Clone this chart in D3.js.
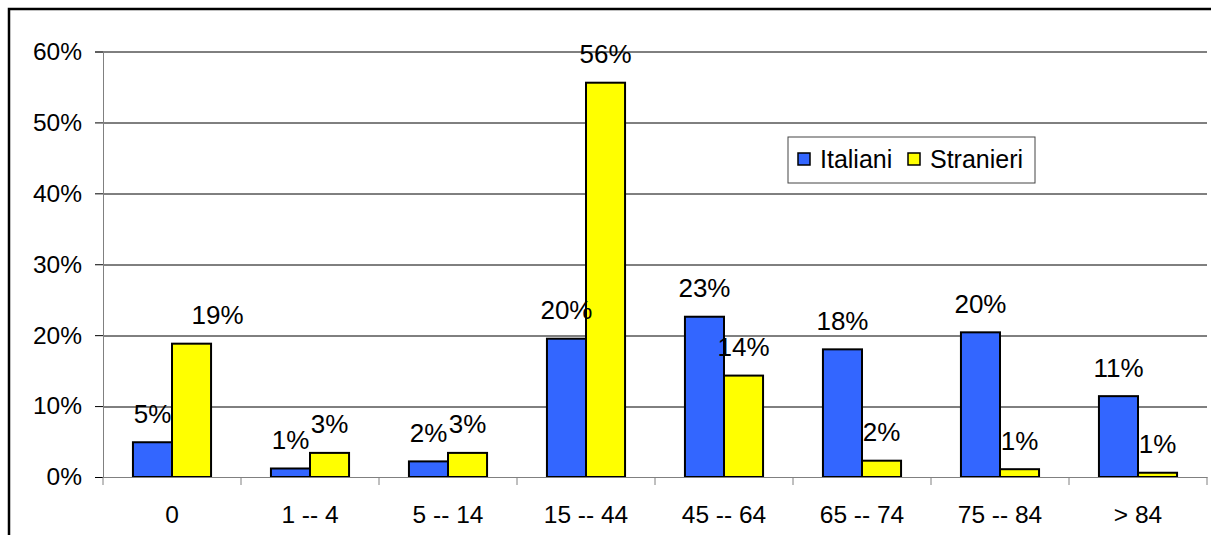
<!DOCTYPE html>
<html>
<head>
<meta charset="utf-8">
<script src="https://cdn.jsdelivr.net/npm/d3@7"></script>
<style>
  body { margin: 0; background: #fff; }
  svg { display: block; font-family: "Liberation Sans", Arial, sans-serif; }
</style>
</head>
<body>
<div id="chart"></div>
<script>
var categories = ['0', '1 -- 4', '5 -- 14', '15 -- 44', '45 -- 64', '65 -- 74', '75 -- 84', '> 84'];
var italiani = [4.9, 1.2, 2.2, 19.5, 22.6, 18.0, 20.4, 11.4];
var stranieri = [18.8, 3.4, 3.4, 55.6, 14.3, 2.3, 1.1, 0.6];
var seriesNames = ['Italiani', 'Stranieri'];
var seriesColors = ['#3366ff', '#ffff00'];
var yTicks = [0, 10, 20, 30, 40, 50, 60];

var width = 1211, height = 535;
var margin = { top: 51.5, right: 4, bottom: 58, left: 103 };
var w = width - margin.left - margin.right,
  h = height - margin.top - margin.bottom;

var svg = d3.select('#chart')
  .append('svg')
  .attr('width', width)
  .attr('height', height);

// outer frame (runs off the right and bottom edges)
svg.append('rect')
  .attr('x', 9)
  .attr('y', 9)
  .attr('width', 1300)
  .attr('height', 600)
  .attr('fill', 'none')
  .attr('stroke', '#000')
  .attr('stroke-width', 2.5);

var g = svg.append('g')
  .attr('transform', 'translate(' + margin.left + ',' + margin.top + ')');

var x = d3.scaleBand()
  .domain(categories)
  .range([0, w]);
var y = d3.scaleLinear()
  .domain([0, 60])
  .range([h, 0]);

var pad = x.bandwidth() * 0.217;
var x1 = d3.scaleBand()
  .domain(seriesNames)
  .range([pad, x.bandwidth() - pad]);

// gridlines
g.selectAll('.grid')
  .data(yTicks.filter(d => d > 0))
  .enter()
  .append('line')
  .attr('x1', 0)
  .attr('x2', w)
  .attr('y1', d => Math.round(y(d)) + 0.5)
  .attr('y2', d => Math.round(y(d)) + 0.5)
  .attr('stroke', '#000')
  .attr('stroke-width', 1);

// y axis
var yAxis = g.append('g')
  .call(d3.axisLeft(y)
    .tickValues(yTicks)
    .tickSize(8)
    .tickPadding(13)
    .tickFormat(d => d + '%'));
yAxis.select('.domain').attr('stroke', '#808080');
yAxis.selectAll('.tick line').attr('stroke', '#000');
yAxis.selectAll('text')
  .attr('font-size', 24.5)
  .attr('font-family', '"Liberation Sans", Arial, sans-serif')
  .attr('fill', '#000');

// bars
var series = [italiani, stranieri];
series.forEach(function (vals, si) {
  g.selectAll('.bar' + si)
    .data(vals)
    .enter()
    .append('rect')
    .attr('x', (d, i) => x(categories[i]) + x1(seriesNames[si]))
    .attr('y', d => y(d))
    .attr('width', x1.bandwidth())
    .attr('height', d => h - y(d))
    .attr('fill', seriesColors[si])
    .attr('stroke', '#000')
    .attr('stroke-width', 2);
});

// x axis
var xAxis = g.append('g')
  .attr('transform', 'translate(0,' + h + ')')
  .call(d3.axisBottom(x).tickSize(0).tickPadding(29));
xAxis.select('.domain').attr('stroke', '#808080');
xAxis.selectAll('text')
  .attr('font-size', 24.5)
  .attr('font-family', '"Liberation Sans", Arial, sans-serif')
  .attr('fill', '#000');
g.selectAll('.xtick')
  .data(d3.range(categories.length + 1))
  .enter()
  .append('line')
  .attr('x1', d => d * x.step())
  .attr('x2', d => d * x.step())
  .attr('y1', h)
  .attr('y2', h + 8)
  .attr('stroke', '#808080');

// data labels (the "19%" label was nudged right in the original)
function labelShift(si, i) {
  return (si === 1 && i === 0) ? 26 : 0;
}
series.forEach(function (vals, si) {
  g.selectAll('.lab' + si)
    .data(vals)
    .enter()
    .append('text')
    .attr('x', (d, i) => x(categories[i]) + x1(seriesNames[si]) + x1.bandwidth() / 2 + labelShift(si, i))
    .attr('y', d => y(d) - 19.5)
    .attr('text-anchor', 'middle')
    .attr('font-size', 26)
    .text(d => Math.round(d) + '%');
});

// legend
var legend = svg.append('g')
  .attr('transform', 'translate(788,137)');
legend.append('rect')
  .attr('width', 247)
  .attr('height', 46)
  .attr('fill', '#fff')
  .attr('stroke', '#444')
  .attr('stroke-width', 1);
var legX = [10, 120];
seriesNames.forEach(function (name, i) {
  legend.append('rect')
    .attr('x', legX[i])
    .attr('y', 16)
    .attr('width', 12)
    .attr('height', 12)
    .attr('fill', seriesColors[i])
    .attr('stroke', '#000')
    .attr('stroke-width', 1.5);
  legend.append('text')
    .attr('x', legX[i] + 22)
    .attr('y', 31)
    .attr('font-size', 25)
    .text(name);
});
</script>
</body>
</html>
